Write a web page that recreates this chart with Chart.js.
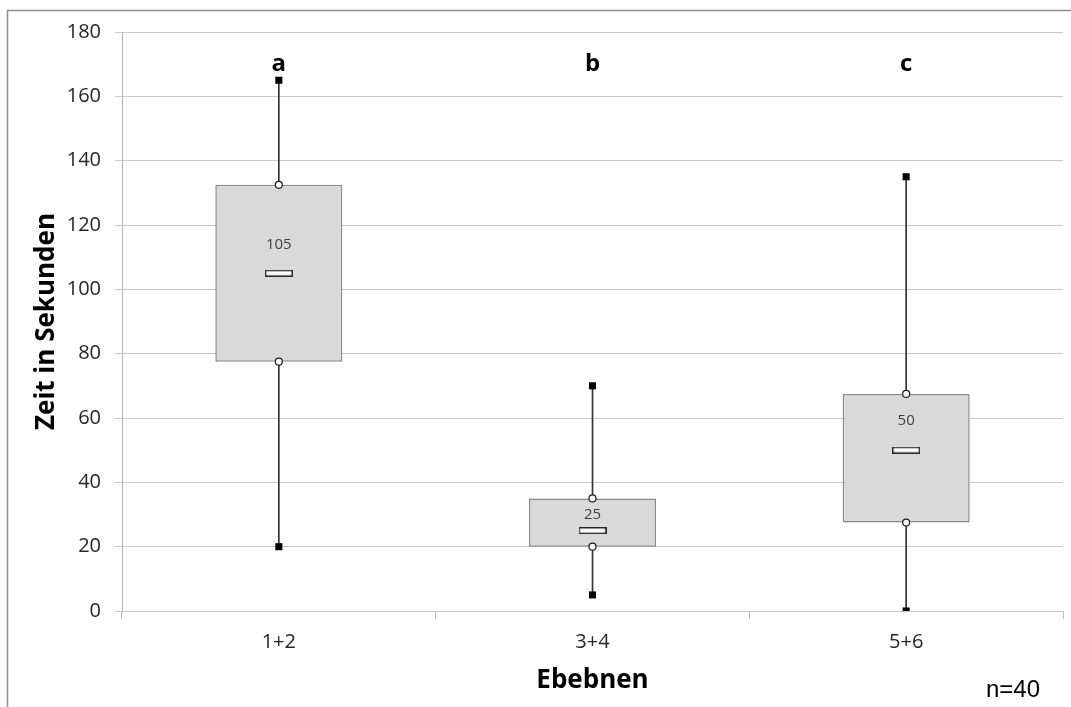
<!DOCTYPE html>
<html>
<head>
<meta charset="utf-8">
<script src="https://cdn.jsdelivr.net/npm/chart.js@4/dist/chart.umd.min.js"></script>
<style>
  html, body { margin: 0; padding: 0; background: #fff; }
  #wrap { width: 1071px; height: 707px; }
</style>
</head>
<body>
<div id="wrap"><canvas id="c" width="1071" height="707"></canvas></div>
<script>
// ---- data ----
const categories = ['1+2', '3+4', '5+6'];
const whiskerMin = [20, 5, 0];
const whiskerMax = [165, 70, 135];
const quartile1 = [77.5, 20, 27.5];
const quartile3 = [132.5, 35, 67.5];
const medians = [105, 25, 50];
const medianLabels = ['105', '25', '50'];
const medianLabelValues = [114, 30, 59];
const groupLetters = ['a', 'b', 'c'];
const groupLetterValue = 170;
const yMin = 0, yMax = 180, yStep = 20;
const xTitle = 'Ebebnen';
const yTitle = 'Zeit in Sekunden';
const sampleNote = 'n=40';

// ---- median marker glyph ----
function makeMedianGlyph() {
  const cv = document.createElement('canvas');
  cv.width = 28; cv.height = 7;
  const g = cv.getContext('2d');
  g.fillStyle = '#ffffff';
  g.fillRect(0, 0, 28, 7);
  g.strokeStyle = '#262626';
  g.lineWidth = 1.4;
  g.strokeRect(0.7, 0.7, 26.6, 5.6);
  return cv;
}

const framePlugin = {
  id: 'frame',
  beforeDraw(chart) {
    const ctx = chart.ctx;
    ctx.save();
    ctx.fillStyle = '#ffffff';
    ctx.fillRect(0, 0, chart.width, chart.height);
    ctx.strokeStyle = '#8f8f8f';
    ctx.lineWidth = 1.5;
    ctx.beginPath();
    ctx.moveTo(7.5, chart.height + 5);
    ctx.lineTo(7.5, 10.5);
    ctx.lineTo(chart.width + 5, 10.5);
    ctx.stroke();
    ctx.restore();
  },
  afterDatasetsDraw(chart) {
    const ctx = chart.ctx;
    const xs = chart.scales.x, ys = chart.scales.y;
    ctx.save();
    ctx.textAlign = 'center';
    ctx.textBaseline = 'middle';
    // median labels
    ctx.fillStyle = '#404040';
    ctx.font = '15px "Open Sans"';
    categories.forEach((c, i) => {
      ctx.fillText(medianLabels[i], xs.getPixelForValue(i), ys.getPixelForValue(medianLabelValues[i]));
    });
    // group letters
    ctx.fillStyle = '#000000';
    ctx.font = 'bold 24px "Open Sans"';
    categories.forEach((c, i) => {
      ctx.fillText(groupLetters[i], xs.getPixelForValue(i), ys.getPixelForValue(groupLetterValue));
    });
    // sample note
    ctx.font = '24px "Liberation Sans"';
    ctx.fillStyle = '#000000';
    ctx.fillText(sampleNote, 1013, 690);
    ctx.restore();
  }
};

new Chart(document.getElementById('c'), {
  data: {
    labels: categories,
    datasets: [
      {
        type: 'line', label: 'min', data: whiskerMin, showLine: false,
        pointStyle: 'rect', pointRadius: 5, pointBackgroundColor: '#000', pointBorderWidth: 0, order: 1
      },
      {
        type: 'line', label: 'max', data: whiskerMax, showLine: false,
        pointStyle: 'rect', pointRadius: 5, pointBackgroundColor: '#000', pointBorderWidth: 0, order: 1
      },
      {
        type: 'line', label: 'q1', data: quartile1, showLine: false,
        pointStyle: 'circle', pointRadius: 3.5, pointBackgroundColor: '#fff',
        pointBorderColor: '#1a1a1a', pointBorderWidth: 1.2, order: 2
      },
      {
        type: 'line', label: 'q3', data: quartile3, showLine: false,
        pointStyle: 'circle', pointRadius: 3.5, pointBackgroundColor: '#fff',
        pointBorderColor: '#1a1a1a', pointBorderWidth: 1.2, order: 2
      },
      {
        type: 'line', label: 'median', data: medians, showLine: false,
        pointStyle: makeMedianGlyph(), pointRadius: 4, order: 3
      },
      {
        type: 'bar', label: 'box', data: categories.map((c, i) => [quartile1[i], quartile3[i]]),
        backgroundColor: '#d9d9d9', borderColor: '#8a8a8a', borderWidth: 1.5, borderSkipped: false,
        barPercentage: 0.405, categoryPercentage: 1, grouped: false, order: 4
      },
      {
        type: 'bar', label: 'whisker', data: categories.map((c, i) => [whiskerMin[i], whiskerMax[i]]),
        backgroundColor: '#333333', borderWidth: 0, barThickness: 1, grouped: false, order: 5
      }
    ]
  },
  options: {
    responsive: false,
    animation: false,
    layout: { padding: { left: 0, right: 8, top: 32, bottom: 0 } },
    plugins: { legend: { display: false }, tooltip: { enabled: false } },
    scales: {
      x: {
        type: 'category',
        offset: true,
        grid: { offset: true, drawOnChartArea: false, drawTicks: true, tickLength: 8, color: '#bdbdbd', lineWidth: 1 },
        border: { display: true, color: '#c8c8c8', width: 1 },
        ticks: { color: '#262626', font: { family: 'Open Sans', size: 20 }, padding: 11, maxRotation: 0 },
        title: { display: true, text: xTitle, color: '#000', font: { family: 'Open Sans', size: 26, weight: 'bold' }, padding: { top: 0, bottom: 11 } },
        afterFit(s) { s.height = 96; }
      },
      y: {
        min: yMin, max: yMax,
        ticks: { stepSize: yStep, color: '#262626', font: { family: 'Open Sans', size: 20 }, padding: 14 },
        grid: { color: '#c8c8c8', lineWidth: 1, tickLength: 7 },
        border: { display: true, color: '#b5b5b5', width: 1 },
        title: { display: true, text: yTitle, color: '#000', font: { family: 'Open Sans', size: 26, weight: 'bold' }, padding: { top: 31, bottom: 0 } },
        afterFit(s) { s.width = 122; }
      }
    }
  },
  plugins: [framePlugin]
});
</script>
</body>
</html>
